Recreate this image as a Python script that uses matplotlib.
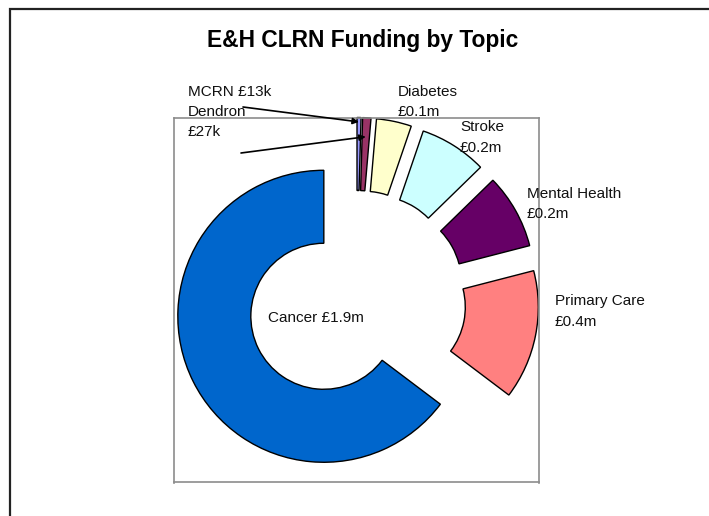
import numpy as np
import matplotlib
matplotlib.use("Agg")
import matplotlib.pyplot as plt
from matplotlib.patches import Rectangle

plt.rcParams['font.family'] = ['Liberation Sans', 'DejaVu Sans']

# Data (clockwise from 12 o'clock)
topics = ["MCRN", "Dendron", "Diabetes", "Stroke", "Mental Health", "Primary Care", "Cancer"]
funding_m = [0.013, 0.027, 0.114, 0.219, 0.243, 0.42, 1.9]
label_lines = {
    "MCRN": ["MCRN £13k"],
    "Dendron": ["Dendron", "£27k"],
    "Diabetes": ["Diabetes", "£0.1m"],
    "Stroke": ["Stroke", "£0.2m"],
    "Mental Health": ["Mental Health", "£0.2m"],
    "Primary Care": ["Primary Care", "£0.4m"],
    "Cancer": ["Cancer £1.9m"],
}
colors = ["#9999FF", "#993366", "#FFFFCC", "#CCFFFF", "#660066", "#FF8080", "#0066CC"]

W, H = 709, 516
fig = plt.figure(figsize=(W / 100, H / 100), dpi=100)

def fx(px):
    return px / W

def fy(py):
    return 1 - py / H

# outer chart border (extends past right/bottom edge)
fig.patches.append(Rectangle((fx(10), fy(600)), 1.2, fy(9) - fy(600),
                             transform=fig.transFigure, fill=False,
                             edgecolor="#222222", linewidth=1.6))

ax = fig.add_axes([fx(174), fy(483), (539 - 174) / W, (483 - 117) / H])
explode = [0.25] * len(funding_m)
wedges, _ = ax.pie(funding_m, colors=colors, startangle=90, counterclock=False,
                   radius=1.0, explode=explode,
                   wedgeprops=dict(width=0.5, edgecolor="black", linewidth=1.0))
ax.set_xlim(-1.25, 1.25)
ax.set_ylim(-1.25, 1.25)
ax.set_aspect('equal', adjustable='box')
ax.set_frame_on(True)
for s in ax.spines.values():
    s.set_edgecolor("#8c8c8c")
    s.set_linewidth(1.2)
ax.set_xticks([])
ax.set_yticks([])

# title
fig.text(fx(362.5), fy(47), "E&H CLRN Funding by Topic", ha="center", va="baseline",
         fontsize=16.4, fontweight="bold")

# labels (left x, first baseline y in pixels) - layout positions
label_pos = {
    "MCRN": (188, 96),
    "Dendron": (188, 116),
    "Diabetes": (398, 96),
    "Stroke": (460, 131),
    "Mental Health": (527, 198),
    "Primary Care": (555, 305),
    "Cancer": (268, 322),
}
line_gap = 20.5
for t in topics:
    x0, y0 = label_pos[t]
    for i, line in enumerate(label_lines[t]):
        fig.text(fx(x0), fy(y0 + i * line_gap), line, ha="left", va="baseline",
                 fontsize=11, color="#111111")

# leader arrows for the two tiny slices
def wedge_point(w, frac):
    th = np.deg2rad((w.theta1 + w.theta2) / 2)
    cx, cy = w.center
    return (cx + frac * np.cos(th), cy + frac * np.sin(th))

arrow_specs = [(0, 0.97, (243, 107)), (1, 0.87, (241, 153))]
for idx, frac, (sx, sy) in arrow_specs:
    target = wedge_point(wedges[idx], frac)
    ax.annotate("", xy=target, xycoords="data",
                xytext=(fx(sx), fy(sy)), textcoords="figure fraction",
                arrowprops=dict(arrowstyle="-|>", color="black", lw=1.2,
                                mutation_scale=9, shrinkA=0, shrinkB=0),
                annotation_clip=False)

fig.savefig("out.png", dpi=100)
